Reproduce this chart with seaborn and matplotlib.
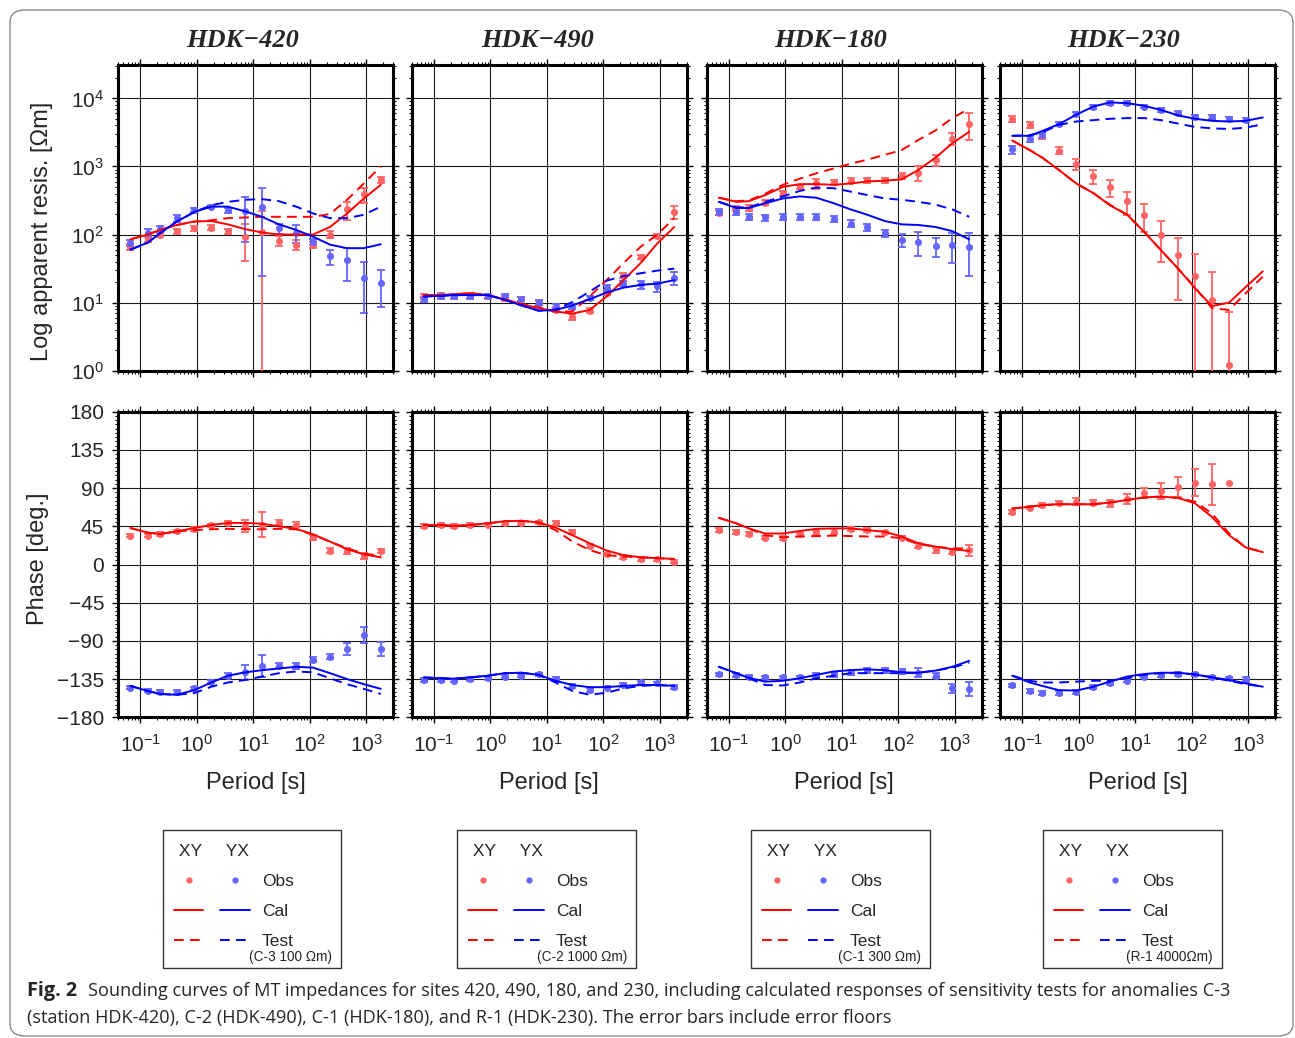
import numpy as np
import pandas as pd
import matplotlib
matplotlib.use("Agg")
import matplotlib.pyplot as plt
import seaborn as sns
from matplotlib.ticker import LogLocator, FixedLocator, MultipleLocator, NullFormatter
from matplotlib.lines import Line2D
from matplotlib.legend_handler import HandlerTuple
from matplotlib.patches import FancyBboxPatch, Rectangle

# ---------------- data ----------------
PERIOD = [0.066, 0.135, 0.224, 0.44, 0.9, 1.8, 3.55, 7.2, 14.3, 28.5, 57.5, 115, 229, 460, 912, 1820]

SITE_NAMES = ["HDK\u2212420", "HDK\u2212490", "HDK\u2212180", "HDK\u2212230"]
TEST_NOTES = ["(C-3 100 \u03a9m)", "(C-2 1000 \u03a9m)", "(C-1 300 \u03a9m)", "(R-1 4000\u03a9m)"]

# HDK-420
rxy_obs_420 = [66, 85, 100, 112, 123, 126, 112, 91, 110, 81, 71, 71, 100, 234, 389, 631]
rxy_err_420 = [6, 8, 9, 10, 11, 11, 10, 50, 115, 14, 12, 8, 12, 70, 100, 60]
rxy_cal_420 = [85, 100, 117, 138, 155, 158, 141, 120, 107, 100, 100, 100, 129, 204, 339, 537]
rxy_tst_420 = [85, 100, 117, 138, 155, 162, 174, 178, 182, 182, 182, 182, 200, 324, 562, 1000]
ryx_obs_420 = [76, 107, 120, 174, 229, 257, 229, 219, 257, 123, 107, 79, 48, 42, 23, 19.5]
ryx_err_420 = [7, 12, 14, 22, 18, 15, 20, 140, 232, 20, 32, 8, 12, 21, 16, 11]
ryx_cal_420 = [60, 76, 105, 155, 214, 257, 257, 219, 182, 141, 117, 93, 71, 63, 63, 72]
ryx_tst_420 = [60, 76, 105, 155, 214, 269, 302, 324, 331, 309, 257, 204, 174, 174, 195, 257]
pxy_obs_420 = [34, 34, 36, 39, 42, 46, 49, 45, 47, 49, 47, 32, 16, 16, 10, 16]
pxy_err_420 = [2, 2, 2, 2, 2, 2, 2, 7, 15, 3, 3, 3, 3, 4, 4, 2]
pxy_cal_420 = [43, 37.5, 36, 39, 43, 46.5, 49, 49, 48, 45, 42, 35.5, 27, 18, 12, 8.5]
pxy_tst_420 = [43, 37.5, 36, 39, 40.5, 41.5, 42, 41.5, 41.5, 42, 41.5, 35, 27, 19, 13, 10]
pyx_obs_420 = [-145, -148.5, -150, -150, -146, -138, -131, -127, -119.5, -119.5, -119.5, -112, -108.5, -99.5, -83, -99.5]
pyx_err_420 = [2, 2, 2, 2, 2, 2, 3, 8.5, 13, 3, 4, 3, 3, 7, 9, 8]
pyx_cal_420 = [-143, -149, -152.5, -153.5, -148, -139, -131, -127, -124.5, -122.5, -120.5, -121.5, -128, -135, -141, -146.5]
pyx_tst_420 = [-143, -149, -152.5, -153.5, -151.5, -144, -139, -136, -132, -128, -126, -127, -134, -141, -146.5, -152.5]

# HDK-490
rxy_obs_490 = [12.3, 12.9, 12.6, 12.6, 12.3, 11.5, 11.2, 9.8, 7.9, 6.2, 7.6, 13.8, 25, 47, 95, 214]
rxy_err_490 = [0.9, 0.9, 0.9, 0.9, 0.9, 0.8, 0.8, 0.7, 0.6, 0.6, 0.6, 1.0, 2, 3.5, 7, 45]
rxy_cal_490 = [12.9, 12.9, 13.2, 13.8, 12.9, 11.2, 9.5, 8.3, 7.4, 6.9, 7.8, 12.3, 21.4, 38, 74, 129]
rxy_tst_490 = [12.9, 12.9, 13.2, 13.8, 12.9, 11.2, 9.5, 8.5, 7.4, 7.4, 12.3, 21.4, 38, 66, 100, 174]
ryx_obs_490 = [11.2, 12.3, 12.3, 12.3, 12.6, 12.3, 11.2, 10, 8.7, 8.7, 11.7, 16.6, 19, 18.6, 17.4, 23]
ryx_err_490 = [0.9, 0.9, 0.9, 0.9, 0.9, 0.9, 0.8, 0.8, 0.7, 0.7, 0.9, 1.3, 1.5, 2.5, 3, 5]
ryx_cal_490 = [12.3, 12.6, 12.9, 12.9, 12.9, 11, 9.1, 7.6, 7.8, 9.1, 11.2, 14.1, 16.6, 18.2, 19, 21.4]
ryx_tst_490 = [12.3, 12.6, 12.9, 12.9, 12.9, 11, 9.1, 7.6, 7.9, 10.2, 14.5, 21, 24.5, 27, 29.5, 31.6]
pxy_obs_490 = [45.5, 46.5, 45.5, 46.5, 47, 48.5, 48.5, 49.5, 49, 38.5, 22, 12, 9, 6.5, 6, 3.5]
pxy_err_490 = [2, 2, 2, 2, 2, 2, 2, 2, 2, 2, 2, 2, 2, 2, 2, 2]
pxy_cal_490 = [46.5, 46.5, 45.5, 46.5, 48.5, 51, 51.5, 49.5, 43.5, 34.5, 25, 16.5, 11, 8.5, 7.5, 6.5]
pxy_tst_490 = [46.5, 46.5, 45.5, 46.5, 48.5, 51, 51.5, 49.5, 40.5, 27, 17, 11, 9.5, 8.5, 7.5, 6.5]
pyx_obs_490 = [-136, -136, -137, -135, -134, -132, -131, -129.5, -135, -143, -148, -145, -142, -139, -140, -144.5]
pyx_err_490 = [2, 2, 2, 2, 2, 2, 2, 2, 2, 2, 2, 2, 2, 2, 2, 2]
pyx_cal_490 = [-133, -134, -134.5, -133, -131, -128, -127.5, -130, -137, -142, -144.5, -144.5, -143, -142, -142, -143]
pyx_tst_490 = [-133, -134, -134.5, -133, -131, -128, -127.5, -130, -139, -149, -153.5, -151, -146, -143, -142, -143]

# HDK-180
rxy_obs_180 = [209, 240, 245, 295, 407, 501, 562, 589, 617, 631, 631, 724, 813, 1259, 2570, 4266]
rxy_err_180 = [15, 20, 22, 25, 35, 40, 90, 50, 50, 50, 50, 80, 200, 230, 520, 1800]
rxy_cal_180 = [347, 302, 309, 380, 501, 550, 550, 537, 562, 603, 617, 646, 891, 1349, 2188, 3236]
rxy_tst_180 = [347, 309, 316, 398, 537, 661, 794, 933, 1096, 1259, 1479, 1738, 2455, 3388, 5129, 7079]
ryx_obs_180 = [214, 214, 182, 178, 182, 182, 182, 170, 145, 129, 105, 83, 78, 68, 71, 66]
ryx_err_180 = [20, 22, 18, 18, 18, 18, 18, 18, 16, 15, 13, 18, 30, 21, 33, 41]
ryx_cal_180 = [302, 245, 245, 288, 339, 363, 347, 288, 234, 195, 158, 141, 138, 129, 112, 85]
ryx_tst_180 = [302, 251, 251, 302, 363, 437, 490, 479, 427, 380, 339, 324, 302, 275, 234, 182]
pxy_obs_180 = [40.5, 38.5, 36, 31.5, 31, 35.5, 38, 38.5, 42, 40.5, 38, 31.5, 22, 17, 15, 16.5]
pxy_err_180 = [2, 2, 2, 2, 2, 2, 3, 3, 2, 2, 2, 2, 3, 3, 3, 6]
pxy_cal_180 = [55, 48.5, 42.5, 36.5, 36.5, 39.5, 42, 42.5, 42.5, 40.5, 38.5, 33, 25, 21, 18, 16]
pxy_tst_180 = [55, 48.5, 42.5, 34.5, 32, 33, 33.5, 34, 33.5, 33, 33, 31, 24, 21, 19, 19]
pyx_obs_180 = [-129.5, -130, -132, -133, -133, -133, -130, -129.5, -127, -124.5, -124.5, -126, -127.5, -131, -146, -146.5]
pyx_err_180 = [2, 2, 2, 2, 2, 2, 2, 3, 3, 3, 3, 3, 5, 3, 5, 8]
pyx_cal_180 = [-120.5, -128, -133.5, -138, -137, -134, -130, -126, -124.5, -123.5, -124.5, -127, -127.5, -125, -120.5, -113.5]
pyx_tst_180 = [-120.5, -128, -134, -142, -142.5, -139, -134, -131, -128, -128, -128, -128, -127.5, -125, -121.5, -115.5]

# HDK-230
rxy_obs_230 = [5012, 4074, 2818, 1698, 1096, 724, 501, 309, 195, 98, 50, 24.5, 11, 1.2]
rxy_err_230 = [480, 380, 250, 200, 200, 170, 140, 117, 85, 58, 39, 27, 17.5, 6]
rxy_cal_230 = [2399, 1738, 1349, 891, 562, 407, 269, 195, 110, 59, 31.6, 16.2, 8.9, 10, 17, 28.8]
rxy_tst_230 = [2399, 1738, 1349, 891, 562, 407, 275, 195, 110, 59, 31.6, 16.6, 8.3, 7.8, 13.8, 24]
ryx_obs_230 = [1778, 2512, 2884, 4266, 5888, 7413, 8511, 8511, 7586, 6761, 6166, 5370, 5370, 5012, 4786]
ryx_err_230 = [250, 250, 250, 300, 400, 450, 500, 500, 450, 450, 450, 400, 400, 400, 350]
ryx_cal_230 = [2818, 2818, 3311, 4169, 5754, 7586, 8710, 8511, 7762, 6761, 5623, 5012, 4677, 4571, 4677, 5248]
ryx_tst_230 = [2818, 2884, 3162, 4074, 4571, 4786, 5012, 5129, 5129, 4786, 4266, 3802, 3631, 3548, 3715, 4169]
pxy_obs_230 = [62, 67, 70, 73, 74, 73, 72, 77, 84, 86.5, 91.5, 96.5, 94.5, 95.5]
pxy_err_230 = [2, 2, 2, 2, 4, 3, 4, 6, 6, 9, 11.5, 15.5, 24, 0]
pxy_cal_230 = [66, 68, 70, 71, 71, 71, 73, 76, 79, 80, 78.5, 72, 56, 34.5, 20, 14.5]
pxy_tst_230 = [66, 68, 70, 71, 71, 71, 73, 76, 79, 80, 78.5, 74, 60, 36.5, 20, 15]
pyx_obs_230 = [-142.5, -149, -151.5, -151.5, -150, -144.5, -140, -137, -132, -130, -129, -129.5, -133, -134, -135]
pyx_err_230 = [2, 2, 2, 2, 2, 2, 2, 2, 2, 2, 2, 2, 2, 2, 2]
pyx_cal_230 = [-131, -139, -143, -148, -148.5, -144, -138, -132, -129, -127.5, -127.5, -129.5, -133, -136, -140, -144]
pyx_tst_230 = [-131, -137, -139, -139, -138, -137, -137, -134, -130, -128, -128, -129.5, -133, -137, -141, -144]

SITES = [
    dict(rxy=(rxy_obs_420, rxy_err_420, rxy_cal_420, rxy_tst_420), ryx=(ryx_obs_420, ryx_err_420, ryx_cal_420, ryx_tst_420),
         pxy=(pxy_obs_420, pxy_err_420, pxy_cal_420, pxy_tst_420), pyx=(pyx_obs_420, pyx_err_420, pyx_cal_420, pyx_tst_420)),
    dict(rxy=(rxy_obs_490, rxy_err_490, rxy_cal_490, rxy_tst_490), ryx=(ryx_obs_490, ryx_err_490, ryx_cal_490, ryx_tst_490),
         pxy=(pxy_obs_490, pxy_err_490, pxy_cal_490, pxy_tst_490), pyx=(pyx_obs_490, pyx_err_490, pyx_cal_490, pyx_tst_490)),
    dict(rxy=(rxy_obs_180, rxy_err_180, rxy_cal_180, rxy_tst_180), ryx=(ryx_obs_180, ryx_err_180, ryx_cal_180, ryx_tst_180),
         pxy=(pxy_obs_180, pxy_err_180, pxy_cal_180, pxy_tst_180), pyx=(pyx_obs_180, pyx_err_180, pyx_cal_180, pyx_tst_180)),
    dict(rxy=(rxy_obs_230, rxy_err_230, rxy_cal_230, rxy_tst_230), ryx=(ryx_obs_230, ryx_err_230, ryx_cal_230, ryx_tst_230),
         pxy=(pxy_obs_230, pxy_err_230, pxy_cal_230, pxy_tst_230), pyx=(pyx_obs_230, pyx_err_230, pyx_cal_230, pyx_tst_230)),
]

CAPTION_BOLD = "Fig. 2"
CAPTION_L1 = ("Sounding curves of MT impedances for sites 420, 490, 180, and 230, including calculated "
              "responses of sensitivity tests for anomalies C-3")
CAPTION_L2 = ("(station HDK-420), C-2 (HDK-490), C-1 (HDK-180), and R-1 (HDK-230). "
              "The error bars include error floors")

# ---------------- style ----------------
sns.set_theme(style="white")
plt.rcParams['font.family'] = ['Liberation Sans', 'DejaVu Sans']
plt.rcParams['mathtext.fontset'] = 'custom'
plt.rcParams['mathtext.rm'] = 'Liberation Sans'
plt.rcParams['mathtext.default'] = 'regular'
plt.rcParams['axes.unicode_minus'] = True

RED_OBS = '#ff6464'
BLUE_OBS = '#6464ff'
RED = '#ff0000'
BLUE = '#0000ff'
DASH = (0, (5.0, 3.2))
LW = 1.4
TICK_FS = 15
LABEL_FS = 17

W, H = 1295, 1038
fig = plt.figure(figsize=(W / 100, H / 100), dpi=100)


def px_axes(left, top, width, height):
    return fig.add_axes([left / W, 1 - (top + height) / H, width / W, height / H])


COL_LEFT = [118, 411.5, 706.5, 1000]
AX_W = 275
TOP_Y, TOP_H = 65, 305.7
BOT_Y, BOT_H = 411.7, 305.6
TITLE_X = [242.5, 537.5, 830.5, 1123.5]
LEG_BOX = [(163, 341), (457, 636), (751, 930), (1043, 1222)]
LEG_TOP, LEG_BOTTOM = 830, 968


def style_axes(ax):
    for s in ax.spines.values():
        s.set_visible(True)
        s.set_linewidth(2.2)
        s.set_color('black')
    ax.grid(True, which='major', color='#1a1a1a', linewidth=0.8)
    ax.tick_params(which='both', direction='out', top=True, right=True, bottom=True, left=True,
                   color='black', labelsize=TICK_FS)
    ax.tick_params(which='major', length=4, width=1.0, pad=6)
    ax.tick_params(which='minor', length=2.5, width=0.8)
    ax.set_axisbelow(True)


def draw_component(ax, obs, err, cal, tst, c_obs, c_line, logy):
    n = len(obs)
    T = np.array(PERIOD[:n], dtype=float)
    o = np.array(obs, dtype=float)
    e = np.array(err, dtype=float)
    m = e > 0
    lo = np.minimum(e, o * (1 - 1e-9)) if logy else e
    ax.errorbar(T[m], o[m], yerr=[lo[m], e[m]], fmt='none', ecolor=c_obs, elinewidth=1.3,
                capsize=3.2, capthick=1.3, zorder=3)
    df_obs = pd.DataFrame({'T': T, 'v': o})
    sns.scatterplot(data=df_obs, x='T', y='v', ax=ax, color=c_obs, s=26, linewidth=0, zorder=4)
    df_line = pd.DataFrame({'T': PERIOD, 'cal': cal, 'tst': tst})
    sns.lineplot(data=df_line, x='T', y='cal', ax=ax, color=c_line, linewidth=LW,
                 estimator=None, sort=False, zorder=5)
    sns.lineplot(data=df_line, x='T', y='tst', ax=ax, color=c_line, linewidth=LW,
                 linestyle=DASH, estimator=None, sort=False, zorder=5)


for i, site in enumerate(SITES):
    ax_r = px_axes(COL_LEFT[i], TOP_Y, AX_W, TOP_H)
    ax_p = px_axes(COL_LEFT[i], BOT_Y, AX_W, BOT_H)

    for ax in (ax_r, ax_p):
        ax.set_xscale('log')
    ax_r.set_yscale('log')

    draw_component(ax_r, *site['rxy'], RED_OBS, RED, True)
    draw_component(ax_r, *site['ryx'], BLUE_OBS, BLUE, True)
    draw_component(ax_p, *site['pxy'], RED_OBS, RED, False)
    draw_component(ax_p, *site['pyx'], BLUE_OBS, BLUE, False)

    for ax in (ax_r, ax_p):
        ax.set_xlim(0.04, 3000)
        ax.xaxis.set_major_locator(LogLocator(base=10, numticks=12))
        ax.xaxis.set_minor_locator(LogLocator(base=10, subs=np.arange(2, 10), numticks=12))
        ax.xaxis.set_minor_formatter(NullFormatter())
        ax.set_xlabel('')
        ax.set_ylabel('')
        style_axes(ax)

    ax_r.set_ylim(1, 10 ** 4.49)
    ax_r.yaxis.set_major_locator(LogLocator(base=10, numticks=12))
    ax_r.yaxis.set_minor_locator(LogLocator(base=10, subs=np.arange(2, 10), numticks=12))
    ax_r.yaxis.set_minor_formatter(NullFormatter())
    ax_r.tick_params(labelbottom=False)

    ax_p.set_ylim(-180, 180)
    ax_p.yaxis.set_major_locator(FixedLocator(np.arange(-180, 181, 45)))
    ax_p.yaxis.set_minor_locator(MultipleLocator(5))
    ax_p.tick_params(axis='x', which='major', pad=8)

    if i > 0:
        ax_r.tick_params(labelleft=False)
        ax_p.tick_params(labelleft=False)

    ax_p.set_xlabel('Period [s]', fontsize=LABEL_FS)
    ax_p.xaxis.set_label_coords(0.5, -(783 - (BOT_Y + BOT_H)) / BOT_H)
    ax_p.xaxis.label.set_va('center')

    fig.text(TITLE_X[i] / W, 1 - 47 / H, SITE_NAMES[i], ha='center', va='baseline',
             fontsize=19, fontweight='bold', fontstyle='italic',
             family=['Liberation Serif', 'DejaVu Serif'])

    # legend box (frame drawn separately)
    x0, x1 = LEG_BOX[i]
    fig.patches.append(Rectangle((x0 / W, 1 - LEG_BOTTOM / H), (x1 - x0) / W, (LEG_BOTTOM - LEG_TOP) / H,
                                 transform=fig.transFigure, fill=False, edgecolor='#333333',
                                 linewidth=1.0))
    h_obs = (Line2D([], [], ls='none', marker='o', ms=4.5, color=RED_OBS, mec='none'),
             Line2D([], [], ls='none', marker='o', ms=4.5, color=BLUE_OBS, mec='none'))
    h_cal = (Line2D([], [], color=RED, lw=LW), Line2D([], [], color=BLUE, lw=LW))
    h_tst = (Line2D([], [], color=RED, lw=LW, ls=DASH), Line2D([], [], color=BLUE, lw=LW, ls=DASH))
    fig.legend([h_obs, h_cal, h_tst], ['Obs', 'Cal', 'Test'],
               handler_map={tuple: HandlerTuple(ndivide=None, pad=0.98)},
               handlelength=4.38, handletextpad=0.69, title=' XY     YX', alignment='left',
               loc='upper left', bbox_to_anchor=(x0 / W, 1 - (LEG_TOP + 3) / H),
               frameon=False, fontsize=12.5, title_fontsize=12.5, borderpad=0.63,
               labelspacing=0.85, borderaxespad=0)
    fig.text((x1 - 9) / W, 1 - 957 / H, TEST_NOTES[i], ha='right', va='center', fontsize=9.8)

fig.text(42 / W, 1 - 231 / H, 'Log apparent resis. [\u03a9m]', rotation=90, ha='center', va='center',
         fontsize=LABEL_FS)
fig.text(38 / W, 1 - 559 / H, 'Phase [deg.]', rotation=90, ha='center', va='center', fontsize=LABEL_FS)

# caption
cap_b = fig.text(27 / W, 1 - 991 / H, CAPTION_BOLD, ha='left', va='center', fontsize=12.5,
                 fontweight='bold', family=['Open Sans', 'DejaVu Sans'])
cap1 = fig.text(88 / W, 1 - 991 / H, CAPTION_L1, ha='left', va='center', fontsize=12.5,
                family=['Open Sans', 'DejaVu Sans'])
cap2 = fig.text(27 / W, 1 - 1018 / H, CAPTION_L2, ha='left', va='center', fontsize=12.5,
                family=['Open Sans', 'DejaVu Sans'])
fig.canvas.draw()
r = fig.canvas.get_renderer()
scale = (1232 - 88) / cap1.get_window_extent(r).width
for t in (cap_b, cap1, cap2):
    t.set_fontsize(t.get_fontsize() * scale)
cap_b.set_fontsize(cap_b.get_fontsize() * 1.1)

border = FancyBboxPatch((10 / W, 2 / H), (1293 - 10) / W, (1036 - 10) / H,
                        boxstyle="round,pad=0,rounding_size=0.012", transform=fig.transFigure,
                        fill=False, edgecolor='#8a8a8a', linewidth=1.0)
fig.patches.append(border)

fig.savefig('out.png', dpi=100)
